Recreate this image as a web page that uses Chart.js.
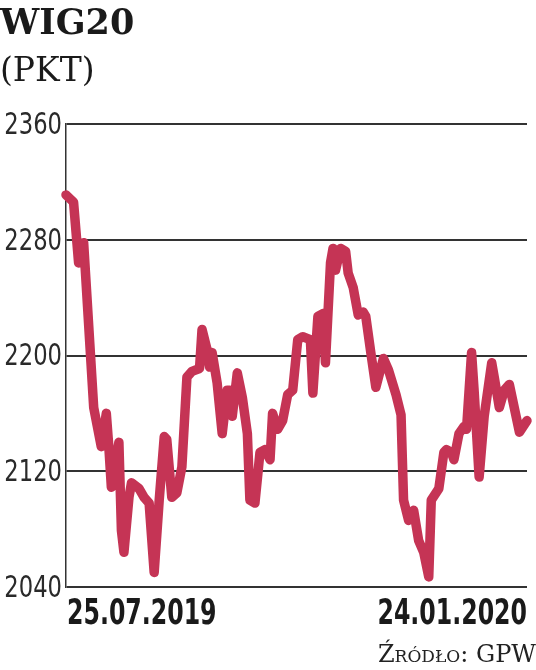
<!DOCTYPE html>
<html lang="pl">
<head>
<meta charset="utf-8">
<title>WIG20</title>
<script src="https://cdn.jsdelivr.net/npm/chart.js@4.4.1/dist/chart.umd.min.js"></script>
<style>
    html, body { margin: 0; padding: 0; background: #fff; }
    #box { width: 536px; height: 670px; position: relative; }
</style>
</head>
<body>
<div id="box"><canvas id="canvasWig"></canvas></div>
<script>
// dzien (od 25.07.2019) i wartosc indeksu
const days = [0, 3, 5, 7, 11, 14, 16, 17, 18, 21, 22, 23, 25, 26, 29, 31, 33, 35, 37, 39,
    40, 42, 44, 46, 48, 50, 53, 54, 56, 57, 58, 60, 62, 64, 65, 66, 68, 70, 72, 73,
    75, 77, 79, 81, 82, 84, 86, 88, 90, 92, 94, 97, 98, 100, 102, 103, 105, 106, 107, 109,
    111, 112, 114, 116, 118, 119, 121, 123, 126, 128, 131, 133, 134, 136, 138, 140, 142, 144, 145, 148,
    150, 151, 153, 154, 156, 158, 159, 161, 162, 164, 166, 169, 170, 172, 174, 176, 180, 183];
const wig20 = [2311, 2306, 2264, 2278, 2164, 2137, 2160, 2137, 2109, 2140, 2079, 2064, 2102, 2112, 2108, 2102, 2098, 2050, 2100, 2144,
    2142, 2102, 2105, 2123, 2185, 2189, 2191, 2218, 2204, 2192, 2202, 2181, 2146, 2176, 2176, 2158, 2188, 2171, 2146, 2100,
    2098, 2133, 2135, 2128, 2160, 2149, 2155, 2173, 2176, 2211, 2213, 2211, 2174, 2227, 2229, 2195, 2264, 2274, 2259, 2274,
    2272, 2257, 2247, 2228, 2230, 2227, 2202, 2178, 2198, 2190, 2173, 2159, 2100, 2086, 2093, 2072, 2064, 2047, 2100, 2108,
    2133, 2135, 2133, 2128, 2146, 2151, 2149, 2202, 2176, 2116, 2158, 2195, 2185, 2164, 2176, 2180, 2147, 2155];

const xTickDays = [0, 183];
const xLabels = ["25.07.2019", "24.01.2020"];
const yTicks = [2040, 2120, 2200, 2280, 2360];

const lineColor = "rgb(197, 52, 85)";
const gridColor = "#333";
const narrowFont = '"DejaVu Sans Condensed", "DejaVu Sans", sans-serif';

// etykiety osi rysowane recznie, zeby byly waskie jak w gazecie
const labelsPlugin = {
    id: "narrowLabels",
    afterDraw(chart) {
        const ctx = chart.ctx;
        const x = chart.scales.x;
        const y = chart.scales.y;

        ctx.save();
        ctx.fillStyle = "#2a2a2a";
        ctx.font = "30px " + narrowFont;
        ctx.textAlign = "right";
        ctx.textBaseline = "middle";
        y.ticks.forEach(t => {
            ctx.save();
            ctx.translate(y.right - 4, y.getPixelForValue(t.value) + 2);
            ctx.scale(0.84, 1);
            ctx.fillText(String(t.value), 0, 0);
            ctx.restore();
        });

        ctx.fillStyle = "#1a1a1a";
        ctx.font = "bold 36px " + narrowFont;
        ctx.textBaseline = "alphabetic";
        x.ticks.forEach((t, i) => {
            const first = i === 0;
            ctx.save();
            ctx.translate(x.getPixelForValue(t.value) + (first ? 1 : 0), x.top + 37);
            ctx.scale(0.73, 1);
            ctx.textAlign = first ? "left" : "right";
            ctx.fillText(xLabels[xTickDays.indexOf(t.value)], 0, 0);
            ctx.restore();
        });

        // zrodlo
        ctx.font = '24px "DejaVu Serif"';
        if ("fontVariantCaps" in ctx) ctx.fontVariantCaps = "small-caps";
        ctx.fillStyle = "#222";
        ctx.textAlign = "right";
        ctx.fillText("Źródło: GPW", chart.width, 662);
        ctx.restore();
    }
};

const points = days.map((d, i) => ({ x: d, y: wig20[i] }));

new Chart(document.getElementById("canvasWig"), {
    type: "line",
    data: {
        datasets: [{
            data: points,
            borderColor: lineColor,
            borderWidth: 9.5,
            pointRadius: 0,
            tension: 0,
            borderJoinStyle: "round",
            borderCapStyle: "round",
            clip: false
        }]
    },
    options: {
        responsive: true,
        maintainAspectRatio: false,
        animation: false,
        layout: { padding: { left: 0, right: 9, top: 0, bottom: 0 } },
        plugins: {
            legend: { display: false },
            tooltip: { enabled: false },
            title: {
                display: true,
                text: "WIG20",
                align: "start",
                color: "#1a1a1a",
                font: { family: '"DejaVu Serif"', size: 35, weight: "bold", lineHeight: 1 },
                padding: { top: 7, bottom: 0 }
            },
            subtitle: {
                display: true,
                text: "(PKT)",
                align: "start",
                color: "#1a1a1a",
                font: { family: '"DejaVu Serif"', size: 33, lineHeight: 1 },
                padding: { top: 14, bottom: 35 }
            }
        },
        scales: {
            x: {
                type: "linear",
                min: 0,
                max: 183,
                grid: { display: false },
                border: { display: false },
                afterBuildTicks(scale) {
                    scale.ticks = xTickDays.map(v => ({ value: v }));
                },
                afterFit(scale) { scale.height = 83; },
                ticks: { display: false }
            },
            y: {
                min: 2040,
                max: 2360,
                afterBuildTicks(scale) {
                    scale.ticks = yTicks.map(v => ({ value: v }));
                },
                afterFit(scale) { scale.width = 66; },
                grid: { color: gridColor, lineWidth: 2, drawTicks: false },
                border: { display: true, color: gridColor, width: 1.5 },
                ticks: { display: false }
            }
        }
    },
    plugins: [labelsPlugin]
});
</script>
</body>
</html>
